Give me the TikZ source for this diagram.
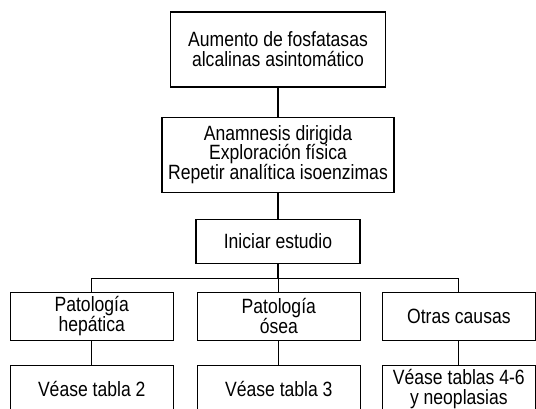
\documentclass[tikz,border=0pt]{standalone}
\usepackage{fontspec}
\setmainfont[FakeStretch=0.85]{Liberation Sans}
\usetikzlibrary{positioning}

\begin{document}
\begin{tikzpicture}[
    node distance=21pt,
    box/.style={rectangle, draw, line width=0.8pt, minimum width=122.25pt, minimum height=36pt, align=center, inner sep=2pt, font=\fontsize{15.5}{14.8}\selectfont},
    link/.style={line width=0.8pt}
]
\useasboundingbox (0,0) rectangle (402pt,-306pt);

% Nodes
\node[box, minimum width=161.25pt, minimum height=56.25pt] (aumento) at (208.5pt,-37.1pt) {Aumento de fosfatasas\\alcalinas asintomático};
\node[box, below=21.75pt of aumento, minimum width=174pt, minimum height=56.25pt] (anamnesis) {Anamnesis dirigida\\Exploración física\\Repetir analítica isoenzimas};
\node[box, below=19.5pt of anamnesis, minimum width=123pt, minimum height=33pt] (iniciar) {Iniciar estudio};
\node[box, below=21pt of iniciar, xshift=0.6pt] (osea) {Patología\\ósea};
\node[box, left=17.25pt of osea] (hepatica) {Patología\\hepática};
\node[box, right=15.75pt of osea, minimum width=114.75pt] (otras) {Otras causas};
\node[box, below=18pt of hepatica] (tabla2) {Véase tabla 2};
\node[box, below=18pt of osea] (tabla3) {Véase tabla 3};
\node[box, below=18pt of otras, minimum width=114.75pt] (tablas46) {Véase tablas 4-6\\y neoplasias};

% Lines
\draw[link] (aumento) -- (anamnesis);
\draw[link] (anamnesis) -- (iniciar);
\draw[link] (iniciar.south) -- ++(0,-11.25pt) -| (hepatica.north);
\draw[link] (iniciar.south) -- ++(0,-11.25pt) -| (osea.north);
\draw[link] (iniciar.south) -- ++(0,-11.25pt) -| (otras.north);
\draw[link] (hepatica) -- (tabla2);
\draw[link] (osea) -- (tabla3);
\draw[link] (otras) -- (tablas46);

\end{tikzpicture}
\end{document}
